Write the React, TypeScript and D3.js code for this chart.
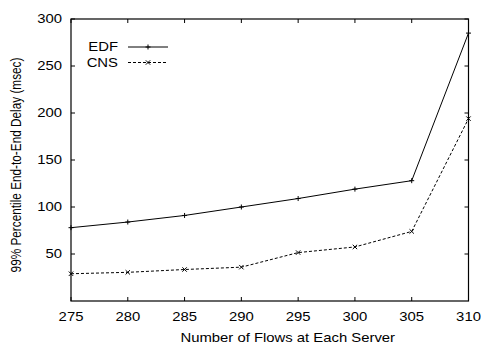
import React from "react";
import * as d3 from "d3";

const flows = [275, 280, 285, 290, 295, 300, 305, 310];
const edf = [78, 84, 91, 100, 109, 119, 128, 285];
const cns = [29, 30.5, 33.5, 36, 51.5, 57.5, 74, 194];
const xTicks = [275, 280, 285, 290, 295, 300, 305, 310];
const yTicks = [50, 100, 150, 200, 250, 300];

const W = 481, H = 346;
const L = 71, R = 468.5, T = 19, B = 301;
const FONT = "'Liberation Sans', Arial, Helvetica, sans-serif";
const SX = 1.19;
const FS = 12.5;

function T2(props: { x: number; y: number; anchor: string; children: React.ReactNode; rotate?: boolean; fs?: number }) {
  const { x, y, anchor, children, rotate, fs } = props;
  return (
    <text
      transform={`translate(${x},${y}) scale(${SX},1)${rotate ? " rotate(-90)" : ""}`}
      fontSize={fs || FS}
      textAnchor={anchor}
      dominantBaseline="central"
    >
      {children}
    </text>
  );
}

export default function App() {
  const x = d3.scaleLinear().domain([275, 310]).range([L, R]);
  const y = d3.scaleLinear().domain([0, 300]).range([B, T]);
  const line = d3.line<number>().x((_, i) => x(flows[i])).y((d) => y(d));
  const plus = (cx: number, cy: number, k: string) => (
    <path key={k} d={`M${cx - 2.5},${cy}H${cx + 2.5}M${cx},${cy - 2.5}V${cy + 2.5}`} stroke="#000" strokeWidth={1} />
  );
  const cross = (cx: number, cy: number, k: string) => (
    <path key={k} d={`M${cx - 2.2},${cy - 2.2}L${cx + 2.2},${cy + 2.2}M${cx - 2.2},${cy + 2.2}L${cx + 2.2},${cy - 2.2}`} stroke="#000" strokeWidth={1} />
  );
  return (
    <svg width={W} height={H} style={{ position: "absolute", left: 0, top: 0, background: "#fff" }} fontFamily={FONT}>
      <rect x={0} y={0} width={W} height={H} fill="#fff" />
      {xTicks.map((t) => (
        <g key={"x" + t}>
          <line x1={x(t)} x2={x(t)} y1={B} y2={B - 4} stroke="#000" />
          <line x1={x(t)} x2={x(t)} y1={T} y2={T + 4} stroke="#000" />
          <T2 x={x(t)} y={317} anchor="middle">{t}</T2>
        </g>
      ))}
      {yTicks.map((t) => (
        <g key={"y" + t}>
          <line x1={L} x2={L + 4} y1={y(t)} y2={y(t)} stroke="#000" />
          <line x1={R} x2={R - 4} y1={y(t)} y2={y(t)} stroke="#000" />
          <T2 x={62} y={y(t)} anchor="end">{t}</T2>
        </g>
      ))}
      <rect x={L} y={T} width={R - L} height={B - T} fill="none" stroke="#000" strokeWidth={1.2} />
      <path d={line(edf) || ""} fill="none" stroke="#000" strokeWidth={1} />
      <path d={line(cns) || ""} fill="none" stroke="#000" strokeWidth={1} strokeDasharray="3,2" />
      {edf.map((v, i) => plus(x(flows[i]), y(v), "e" + i))}
      {cns.map((v, i) => cross(x(flows[i]), y(v), "c" + i))}
      <T2 x={118} y={47} anchor="end">EDF</T2>
      <T2 x={118} y={62.5} anchor="end">CNS</T2>
      <line x1={128} x2={168} y1={47} y2={47} stroke="#000" />
      {plus(148, 47, "le")}
      <line x1={128} x2={168} y1={62.5} y2={62.5} stroke="#000" strokeDasharray="3,2" />
      {cross(148, 62.5, "lc")}
      <T2 x={(L + R) / 2 + 18} y={338} anchor="middle">Number of Flows at Each Server</T2>
      <T2 x={16} y={165} anchor="middle" rotate fs={11.8}>99% Percentile End-to-End Delay (msec)</T2>
    </svg>
  );
}
